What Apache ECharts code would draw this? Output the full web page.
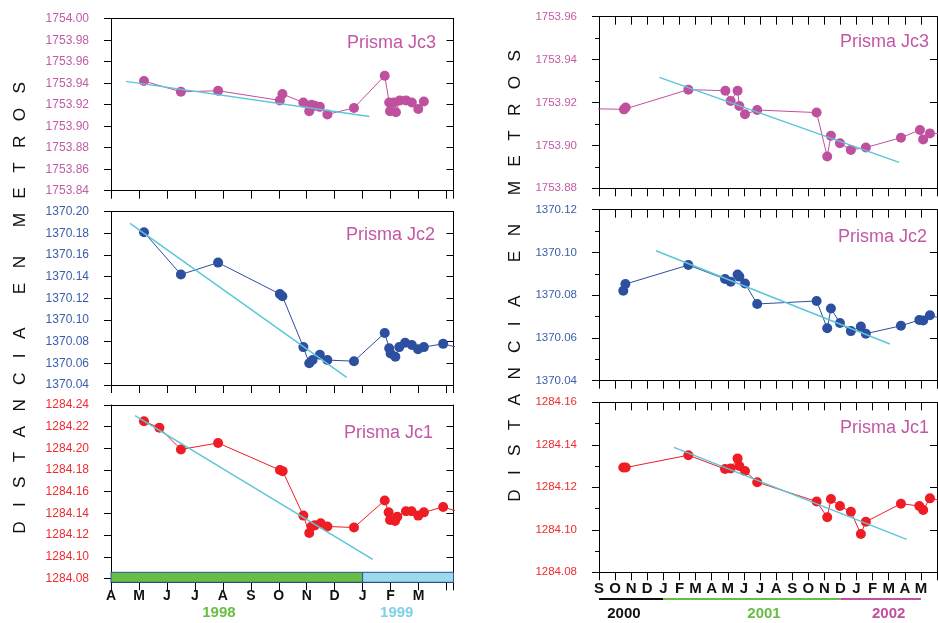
<!DOCTYPE html>
<html><head><meta charset="utf-8">
<script src="https://cdn.jsdelivr.net/npm/echarts@6/dist/echarts.min.js"></script>
<style>html,body{margin:0;padding:0;background:#fff}#c{width:938px;height:623px}</style>
</head><body><div id="c"></div>
<script>
// ---- tick labels ----
const leftMonths = ['A','M','J','J','A','S','O','N','D','J','F','M'];      // months from 1 Apr 1998
const rightMonths = ['S','O','N','D','J','F','M','A','M','J','J','A','S','O','N','D','J','F','M','A','M']; // months from 1 Sep 2000
const leftYears = ['1998','1999'];
const leftYearPos = [3.86, 10.22];
const leftBands = [[0, 9], [9, 12.25]];
const rightYears = ['2000','2001','2002'];
const rightYearPos = [1.55, 10.25, 18.0];
const rightYearSpans = [[0, 4], [4, 15], [15, 20]];

// ---- left period (x = months since 1 Apr 1998) ----
const leftJc3X = [1.18, 2.50, 3.83, 6.04, 6.13, 6.88, 7.09, 7.17, 7.29, 7.47, 7.74, 8.69, 9.79, 9.95, 9.98, 10.12, 10.19, 10.33, 10.55, 10.76, 10.99, 11.19];
const leftJc3Y = [1753.942, 1753.932, 1753.933, 1753.924, 1753.930, 1753.922, 1753.914, 1753.920, 1753.919, 1753.918, 1753.911, 1753.917, 1753.947, 1753.922, 1753.914, 1753.922, 1753.913, 1753.924, 1753.924, 1753.922, 1753.916, 1753.923];
const leftJc3TrendX = [0.54, 9.24];
const leftJc3TrendY = [1753.9417, 1753.9091];

const leftJc2X = [1.18, 2.50, 3.83, 6.04, 6.13, 6.88, 7.09, 7.21, 7.47, 7.74, 8.69, 9.79, 9.95, 10.00, 10.17, 10.31, 10.52, 10.76, 10.98, 11.19, 11.88, 12.5];
const leftJc2Y = [1370.181, 1370.142, 1370.153, 1370.124, 1370.122, 1370.075, 1370.060, 1370.063, 1370.068, 1370.063, 1370.062, 1370.088, 1370.074, 1370.069, 1370.066, 1370.075, 1370.079, 1370.077, 1370.073, 1370.075, 1370.078, 1370.074];
const leftJc2TrendX = [0.68, 8.43];
const leftJc2TrendY = [1370.1892, 1370.0471];

const leftJc1X = [1.18, 1.73, 2.50, 3.83, 6.04, 6.14, 6.88, 7.09, 7.17, 7.29, 7.50, 7.74, 8.69, 9.79, 9.93, 9.98, 10.16, 10.24, 10.55, 10.75, 10.99, 11.19, 11.88, 12.5];
const leftJc1Y = [1284.225, 1284.219, 1284.199, 1284.205, 1284.180, 1284.179, 1284.138, 1284.122, 1284.128, 1284.129, 1284.131, 1284.128, 1284.127, 1284.152, 1284.141, 1284.134, 1284.133, 1284.137, 1284.142, 1284.142, 1284.138, 1284.141, 1284.146, 1284.141];
const leftJc1TrendX = [0.86, 9.36];
const leftJc1TrendY = [1284.2302, 1284.0977];

// ---- right period (x = months since 1 Sep 2000) ----
const rightJc3X = [-1, 1.55, 1.66, 5.55, 7.85, 8.18, 8.61, 8.72, 9.07, 9.83, 13.52, 14.18, 14.41, 14.97, 15.65, 16.58, 18.76, 19.94, 20.14, 20.56, 21.3];
const rightJc3Y = [1753.9172, 1753.9168, 1753.9177, 1753.926, 1753.9255, 1753.9207, 1753.9255, 1753.9184, 1753.9145, 1753.9165, 1753.9153, 1753.8948, 1753.9045, 1753.901, 1753.8979, 1753.899, 1753.9036, 1753.9072, 1753.9028, 1753.9056, 1753.9055];
const rightJc3TrendX = [3.75, 18.65];
const rightJc3TrendY = [1753.9317, 1753.8921];

const rightJc2X = [1.51, 1.64, 5.55, 7.83, 8.18, 8.61, 8.72, 9.07, 9.83, 13.52, 14.18, 14.41, 14.97, 15.65, 16.27, 16.58, 18.76, 19.90, 20.14, 20.56, 21.3];
const rightJc2Y = [1370.0821, 1370.0852, 1370.0941, 1370.0876, 1370.0863, 1370.0897, 1370.0887, 1370.0855, 1370.0759, 1370.0773, 1370.0645, 1370.0738, 1370.067, 1370.0632, 1370.0653, 1370.062, 1370.0657, 1370.0684, 1370.0682, 1370.0706, 1370.069];
const rightJc2TrendX = [3.54, 18.07];
const rightJc2TrendY = [1370.1008, 1370.0572];

const rightJc1X = [1.51, 1.66, 5.55, 7.83, 8.18, 8.61, 8.72, 9.07, 9.83, 13.52, 14.18, 14.41, 14.97, 15.65, 16.27, 16.58, 18.76, 19.90, 20.14, 20.56, 21.3];
const rightJc1Y = [1284.1293, 1284.1293, 1284.1351, 1284.1286, 1284.1289, 1284.1336, 1284.130, 1284.1277, 1284.1224, 1284.1133, 1284.1059, 1284.1145, 1284.1112, 1284.1085, 1284.098, 1284.1038, 1284.1123, 1284.1112, 1284.1093, 1284.1148, 1284.1137];
const rightJc1TrendX = [4.66, 19.11];
const rightJc1TrendY = [1284.1388, 1284.0955];

// ---- styling ----
const FONT = 'Liberation Sans, Arial, Helvetica, sans-serif';
const C3 = '#bf509d', C2 = '#2c4f9f', C1 = '#ee1d25', CT = '#5cc6d8';
const L3 = '#c25ba6', L2 = '#3b5daa', L1 = '#ef2b30';
const zip = (a, b) => a.map((v, i) => [v, b[i]]);

const grids = [], xAxes = [], yAxes = [], series = [];
function addGrid(g) {
  grids.push(Object.assign({ outerBoundsMode: 'none', containLabel: false, show: false }, g));
  return grids.length - 1;
}
function addPanel(p) {
  const gi = addGrid({ left: p.left, top: p.top, width: p.width, height: p.height });
  const xi = xAxes.length;
  xAxes.push({
    gridIndex: gi, type: 'value', min: 0, max: p.xmax, interval: 1, position: 'bottom',
    show: p.bottom !== false,
    axisLine: { show: true, onZero: false, lineStyle: { color: '#000', width: 1 } },
    axisTick: { show: true, inside: false, length: 8, lineStyle: { color: '#000', width: 1 } },
    axisLabel: p.months ? {
      show: true, margin: p.lmargin, fontFamily: FONT, fontWeight: 'bold', fontSize: p.mfs, color: '#111',
      formatter: v => (Number.isInteger(v) && p.months[v]) ? p.months[v] : ''
    } : { show: false },
    splitLine: { show: false }
  });
  xAxes.push({
    gridIndex: gi, type: 'value', min: 0, max: p.xmax, interval: 1, position: 'top',
    axisLine: { show: true, onZero: false, lineStyle: { color: '#000', width: 1 } },
    axisTick: { show: !!p.topTicks, inside: true, length: 8, lineStyle: { color: '#000' } },
    axisLabel: { show: false }, splitLine: { show: false }
  });
  const yi = yAxes.length;
  yAxes.push({
    gridIndex: gi, type: 'value', min: p.ymin, max: p.ymax, interval: 0.02, position: 'left',
    axisLine: { show: true, onZero: false, lineStyle: { color: '#000', width: 1 } },
    axisTick: { show: true, inside: false, length: 7, lineStyle: { color: '#000' } },
    minorTick: { show: !!p.minor, splitNumber: 2, length: 4, lineStyle: { color: '#000' } },
    axisLabel: { show: true, color: p.lcolor, fontSize: p.yfs, fontFamily: FONT, margin: 22, formatter: v => v.toFixed(2) },
    splitLine: { show: false }, minorSplitLine: { show: false }
  });
  yAxes.push({
    gridIndex: gi, type: 'value', min: p.ymin, max: p.ymax, interval: 0.02, position: 'right',
    axisLine: { show: true, onZero: false, lineStyle: { color: '#000', width: 1 } },
    axisTick: { show: true, inside: true, length: 7, lineStyle: { color: '#000' } },
    axisLabel: { show: false }, splitLine: { show: false }
  });
  return { xi, yi };
}
function addData(ax, xs, ys, color, tx, ty) {
  series.push({
    type: 'line', xAxisIndex: ax.xi, yAxisIndex: ax.yi, data: zip(tx, ty), symbol: 'none',
    lineStyle: { color: CT, width: 1.5 }, z: 3, silent: true
  });
  series.push({
    type: 'line', xAxisIndex: ax.xi, yAxisIndex: ax.yi, data: zip(xs, ys), symbol: 'circle', symbolSize: 10,
    itemStyle: { color: color }, lineStyle: { color: color, width: 1 }, z: 2, silent: true, clip: true
  });
}

const LX = 111, LW = 342.5, LMAX = 12.25;
const RX = 599, RW = 338, RMAX = 21;

const aL1 = addPanel({ left: LX, top: 18.7, width: LW, height: 172, xmax: LMAX, ymin: 1753.84, ymax: 1754.00, lcolor: L3, yfs: 12 });
const aL2 = addPanel({ left: LX, top: 211.7, width: LW, height: 173.3, xmax: LMAX, ymin: 1370.04, ymax: 1370.20, lcolor: L2, yfs: 12 });
const aL3 = addPanel({ left: LX, top: 405, width: LW, height: 173.5, xmax: LMAX, ymin: 1284.08, ymax: 1284.24, lcolor: L1, yfs: 12, bottom: false });
const aR1 = addPanel({ left: RX, top: 16.7, width: RW, height: 171.6, xmax: RMAX, ymin: 1753.88, ymax: 1753.96, lcolor: L3, yfs: 11.5, topTicks: true, minor: true });
const aR2 = addPanel({ left: RX, top: 209.7, width: RW, height: 171, xmax: RMAX, ymin: 1370.04, ymax: 1370.12, lcolor: L2, yfs: 11.5, topTicks: true, minor: true });
const aR3 = addPanel({ left: RX, top: 402.3, width: RW, height: 170, xmax: RMAX, ymin: 1284.08, ymax: 1284.16, lcolor: L1, yfs: 11.5, topTicks: true, minor: true, months: rightMonths, mfs: 15, lmargin: 9 });

addData(aL1, leftJc3X, leftJc3Y, C3, leftJc3TrendX, leftJc3TrendY);
addData(aL2, leftJc2X, leftJc2Y, C2, leftJc2TrendX, leftJc2TrendY);
addData(aL3, leftJc1X, leftJc1Y, C1, leftJc1TrendX, leftJc1TrendY);
addData(aR1, rightJc3X, rightJc3Y, C3, rightJc3TrendX, rightJc3TrendY);
addData(aR2, rightJc2X, rightJc2Y, C2, rightJc2TrendX, rightJc2TrendY);
addData(aR3, rightJc1X, rightJc1Y, C1, rightJc1TrendX, rightJc1TrendY);

// left year band strip with month axis
const gBand = addGrid({ left: LX, top: 572.3, width: LW, height: 10 });
const bxi = xAxes.length;
xAxes.push({
  gridIndex: gBand, type: 'value', min: 0, max: LMAX, interval: 1, position: 'bottom',
  axisLine: { show: true, onZero: false, lineStyle: { color: '#000', width: 1 } },
  axisTick: { show: true, inside: false, length: 8, lineStyle: { color: '#000' } },
  axisLabel: { show: true, margin: 7, fontFamily: FONT, fontWeight: 'bold', fontSize: 14, color: '#111',
    formatter: v => (Number.isInteger(v) && leftMonths[v]) ? leftMonths[v] : '' },
  splitLine: { show: false }
});
const byi = yAxes.length;
yAxes.push({ gridIndex: gBand, type: 'value', min: 0, max: 1, show: false });
const bandColors = ['#68bd45', '#9cd9ea'];
const leftYearColors = ['#68bd45', '#7fcfe5'];
series.push({
  type: 'custom', xAxisIndex: bxi, yAxisIndex: byi, silent: true, clip: false, z: 5,
  data: leftBands.map(b => [b[0], b[1]]),
  encode: { x: [0, 1] },
  renderItem: (params, api) => {
    const p0 = api.coord([api.value(0), 1]);
    const p1 = api.coord([api.value(1), 0]);
    return { type: 'rect', shape: { x: p0[0], y: p0[1], width: p1[0] - p0[0], height: p1[1] - p0[1] },
      style: { fill: bandColors[params.dataIndex], stroke: '#2e4e9e', lineWidth: 1 } };
  }
});
series.push({
  type: 'custom', xAxisIndex: bxi, yAxisIndex: byi, silent: true, clip: false, z: 5,
  data: leftYearPos.map(v => [v, 0]),
  renderItem: (params, api) => {
    const p = api.coord([api.value(0), 0]);
    return { type: 'text', x: p[0], y: p[1] + 31,
      style: { text: leftYears[params.dataIndex], fill: leftYearColors[params.dataIndex], font: 'bold 15px ' + FONT, align: 'center', verticalAlign: 'middle' } };
  }
});

// right year underlines
const gYear = addGrid({ left: RX, top: 598, width: RW, height: 1 });
const yxi = xAxes.length;
xAxes.push({ gridIndex: gYear, type: 'value', min: 0, max: RMAX, show: false });
const yyi = yAxes.length;
yAxes.push({ gridIndex: gYear, type: 'value', min: 0, max: 1, show: false });
const rightYearColors = ['#111111', '#68bd45', '#bf509d'];
series.push({
  type: 'custom', xAxisIndex: yxi, yAxisIndex: yyi, silent: true, clip: false, z: 5,
  data: rightYearSpans.map(s => [s[0], s[1]]),
  encode: { x: [0, 1] },
  renderItem: (params, api) => {
    const p0 = api.coord([api.value(0), 0]);
    const p1 = api.coord([api.value(1), 0]);
    return { type: 'line', shape: { x1: p0[0], y1: p0[1], x2: p1[0], y2: p1[1] },
      style: { stroke: rightYearColors[params.dataIndex], lineWidth: 2 } };
  }
});
series.push({
  type: 'custom', xAxisIndex: yxi, yAxisIndex: yyi, silent: true, clip: false, z: 5,
  data: rightYearPos.map(v => [v, 0]),
  renderItem: (params, api) => {
    const p = api.coord([api.value(0), 0]);
    return { type: 'text', x: p[0], y: p[1] + 15,
      style: { text: rightYears[params.dataIndex], fill: rightYearColors[params.dataIndex], font: 'bold 15px ' + FONT, align: 'center', verticalAlign: 'middle' } };
  }
});

const titleText = 'D   I   S   T   A   N   C   I   A       E   N      M   E   T   R   O   S';
const PC = '#c257a4';
function label(x, y, t) {
  return { type: 'text', x: x, y: y, z: 10, silent: true,
    style: { text: t, fill: PC, font: '18px ' + FONT, align: 'right', verticalAlign: 'middle' } };
}
const graphic = [
  { type: 'text', x: 20, y: 308, rotation: Math.PI / 2, silent: true,
    style: { text: titleText, fill: '#111', font: '17.2px ' + FONT, align: 'center', verticalAlign: 'middle' } },
  { type: 'text', x: 515, y: 276, rotation: Math.PI / 2, silent: true,
    style: { text: titleText, fill: '#111', font: '17.2px ' + FONT, align: 'center', verticalAlign: 'middle' } },
  label(436, 43, 'Prisma Jc3'),
  label(435, 235, 'Prisma Jc2'),
  label(433, 433, 'Prisma Jc1'),
  label(929, 42, 'Prisma Jc3'),
  label(927, 237, 'Prisma Jc2'),
  label(929, 428, 'Prisma Jc1')
];

const chart = echarts.init(document.getElementById('c'), null, { renderer: 'canvas' });
chart.setOption({
  animation: false,
  backgroundColor: '#fff',
  textStyle: { fontFamily: FONT },
  grid: grids, xAxis: xAxes, yAxis: yAxes, series: series, graphic: graphic
});
</script></body></html>
